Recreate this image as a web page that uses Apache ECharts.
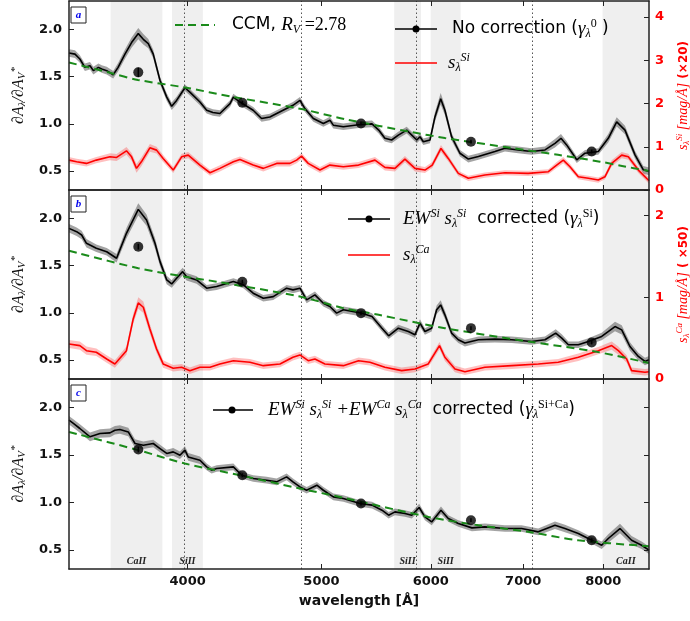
<!DOCTYPE html>
<html><head><meta charset="utf-8">
<script src="https://cdn.jsdelivr.net/npm/echarts@6/dist/echarts.min.js"></script>
<style>html,body{margin:0;padding:0;background:#fff}#c{width:690px;height:621px}</style>
</head><body><div id="c"></div>
<script>
// ---------- data ----------
const xTicks = [4000, 5000, 6000, 7000, 8000];
const yTicksLeft = [0.5, 1.0, 1.5, 2.0];
const yTicksRightA = [0, 1, 2, 3, 4];
const yTicksRightB = [0, 1, 2];
const bandEdges = [[3518, 3835], [3897, 4103], [5645, 5903], [5999, 6306], [7991, 8634]];
const bandNames = ['CaII', 'SiII', 'SiII', 'SiII', 'CaII'];
const dottedLines = [3977, 4832, 5854, 7107];

// panel a : no correction
const waveA = [3282,3315,3342,3370,3399,3418,3447,3466,3495,3533,3562,3603,3643,3684,3715,3746,3777,3820,3863,3895,3927,3982,4015,4083,4129,4172,4221,4293,4317,4365,4462,4525,4588,4690,4768,4824,4864,4933,5016,5071,5100,5186,5319,5440,5501,5558,5621,5684,5764,5813,5862,5893,5926,5992,6042,6100,6143,6212,6299,6388,6496,6678,6790,6942,7096,7259,7381,7455,7526,7654,7760,7934,8067,8181,8295,8435,8553,8634];
const gammaA = [1.75,1.738,1.686,1.598,1.615,1.563,1.598,1.58,1.563,1.52,1.598,1.738,1.86,1.955,1.895,1.849,1.738,1.458,1.283,1.186,1.248,1.382,1.335,1.231,1.144,1.12,1.109,1.214,1.283,1.231,1.144,1.057,1.073,1.144,1.196,1.248,1.161,1.057,1.004,1.039,0.986,0.969,0.99,1.0,0.934,0.847,0.829,0.881,0.934,0.881,0.829,0.864,0.811,0.829,1.073,1.266,1.144,0.864,0.689,0.627,0.654,0.707,0.742,0.724,0.707,0.724,0.794,0.847,0.777,0.62,0.689,0.707,0.847,1.021,0.934,0.672,0.514,0.497];
const errA = [0.04,0.04,0.04,0.04,0.04,0.04,0.04,0.04,0.04,0.04,0.045,0.05,0.055,0.06,0.055,0.05,0.045,0.04,0.04,0.04,0.04,0.035,0.035,0.035,0.035,0.035,0.035,0.035,0.035,0.035,0.035,0.035,0.035,0.035,0.035,0.035,0.035,0.035,0.035,0.035,0.035,0.035,0.035,0.035,0.035,0.035,0.035,0.035,0.035,0.035,0.035,0.035,0.035,0.035,0.05,0.06,0.05,0.04,0.035,0.035,0.035,0.035,0.035,0.035,0.035,0.035,0.045,0.045,0.04,0.035,0.035,0.035,0.045,0.05,0.045,0.04,0.04,0.04];
const waveRA = [3282,3324,3379,3435,3514,3553,3612,3643,3673,3703,3756,3798,3840,3905,3960,4004,4083,4152,4221,4317,4365,4462,4538,4640,4744,4797,4837,4891,4988,5071,5186,5319,5467,5558,5652,5747,5844,5942,6015,6103,6178,6282,6388,6567,6790,7058,7300,7402,7484,7568,7674,7804,7934,8022,8113,8250,8341,8482,8634];
const sSiA = [0.691,0.652,0.615,0.691,0.767,0.753,0.906,0.767,0.5,0.652,0.975,0.922,0.73,0.461,0.767,0.806,0.576,0.399,0.5,0.652,0.707,0.576,0.5,0.615,0.615,0.691,0.783,0.615,0.461,0.576,0.537,0.576,0.691,0.523,0.5,0.714,0.5,0.461,0.576,0.961,0.73,0.385,0.27,0.346,0.399,0.385,0.422,0.576,0.691,0.537,0.306,0.27,0.23,0.306,0.615,0.806,0.767,0.461,0.214];
const sSiErrA = [0.07,0.07,0.07,0.07,0.08,0.08,0.09,0.09,0.1,0.1,0.09,0.08,0.08,0.07,0.07,0.07,0.07,0.07,0.07,0.07,0.07,0.07,0.07,0.07,0.07,0.07,0.07,0.07,0.07,0.07,0.07,0.07,0.07,0.07,0.07,0.07,0.07,0.07,0.07,0.08,0.07,0.06,0.06,0.06,0.06,0.06,0.06,0.07,0.07,0.07,0.06,0.06,0.06,0.06,0.07,0.07,0.07,0.07,0.07];

// panel b : Si corrected
const waveB = [3282,3324,3352,3379,3435,3495,3553,3612,3684,3735,3788,3820,3863,3895,3927,3967,3993,4060,4129,4198,4317,4390,4462,4538,4614,4718,4768,4824,4878,4946,5016,5071,5128,5186,5349,5440,5531,5593,5684,5780,5844,5893,5942,6009,6059,6100,6143,6212,6282,6352,6496,6678,6868,7096,7259,7390,7465,7548,7674,7804,7979,8158,8250,8364,8482,8576,8634];
const gammaB = [1.894,1.859,1.824,1.736,1.683,1.647,1.578,1.842,2.095,1.982,1.736,1.542,1.348,1.306,1.366,1.436,1.383,1.348,1.261,1.278,1.331,1.296,1.208,1.155,1.172,1.261,1.243,1.261,1.137,1.19,1.102,1.067,0.997,1.032,0.997,0.961,0.838,0.757,0.838,0.803,0.768,0.891,0.803,0.838,1.032,1.084,0.979,0.786,0.715,0.68,0.715,0.722,0.715,0.697,0.715,0.786,0.733,0.662,0.662,0.697,0.75,0.855,0.82,0.644,0.539,0.486,0.504];
const errB = [0.045,0.045,0.045,0.045,0.04,0.04,0.045,0.055,0.065,0.06,0.055,0.05,0.045,0.04,0.04,0.04,0.04,0.04,0.035,0.035,0.035,0.035,0.035,0.035,0.035,0.035,0.035,0.035,0.035,0.035,0.035,0.035,0.035,0.035,0.035,0.035,0.035,0.035,0.035,0.035,0.035,0.04,0.035,0.035,0.045,0.05,0.045,0.035,0.035,0.035,0.035,0.035,0.035,0.035,0.035,0.04,0.04,0.035,0.035,0.035,0.04,0.05,0.05,0.045,0.04,0.04,0.04];
const waveRB = [3282,3342,3379,3435,3495,3543,3612,3653,3684,3715,3756,3798,3840,3905,3960,4015,4083,4152,4221,4317,4438,4538,4666,4768,4824,4891,4946,5029,5186,5319,5421,5558,5716,5844,5975,6088,6143,6247,6352,6567,6868,7179,7421,7674,7934,8113,8204,8318,8387,8576,8634];
const sCaB = [0.428,0.408,0.346,0.327,0.245,0.184,0.346,0.734,0.93,0.877,0.612,0.367,0.184,0.131,0.143,0.102,0.143,0.143,0.184,0.224,0.204,0.163,0.184,0.266,0.294,0.224,0.245,0.184,0.163,0.224,0.204,0.143,0.102,0.122,0.184,0.408,0.266,0.122,0.089,0.143,0.163,0.184,0.204,0.266,0.346,0.408,0.346,0.245,0.102,0.082,0.089];
const sCaErrB = [0.05,0.05,0.05,0.045,0.045,0.045,0.05,0.06,0.07,0.07,0.06,0.05,0.045,0.04,0.04,0.04,0.04,0.04,0.04,0.04,0.04,0.04,0.04,0.04,0.04,0.04,0.04,0.04,0.04,0.04,0.04,0.04,0.04,0.04,0.04,0.045,0.045,0.04,0.04,0.04,0.04,0.04,0.04,0.045,0.045,0.05,0.05,0.045,0.04,0.04,0.04];

// panel c : Si + Ca corrected
const waveC = [3282,3306,3342,3399,3456,3514,3543,3573,3623,3664,3715,3777,3820,3863,3905,3949,3982,4004,4083,4129,4163,4198,4317,4378,4462,4563,4640,4718,4768,4824,4878,4962,5016,5100,5186,5332,5440,5531,5593,5652,5747,5813,5885,5942,6009,6103,6178,6282,6426,6567,6790,6981,7178,7381,7505,7674,7847,7979,8067,8226,8387,8528,8634];
const gammaC = [1.866,1.832,1.779,1.691,1.726,1.733,1.761,1.768,1.743,1.621,1.603,1.621,1.568,1.516,1.533,1.498,1.551,1.48,1.445,1.375,1.34,1.358,1.375,1.287,1.253,1.235,1.217,1.27,1.217,1.164,1.129,1.182,1.129,1.059,1.042,0.989,0.972,0.919,0.866,0.901,0.884,0.866,0.947,0.848,0.796,0.919,0.832,0.779,0.733,0.743,0.726,0.726,0.691,0.761,0.726,0.674,0.603,0.55,0.621,0.726,0.603,0.55,0.498];
const errC = [0.045,0.045,0.045,0.045,0.045,0.045,0.045,0.045,0.045,0.045,0.04,0.04,0.04,0.04,0.04,0.04,0.04,0.04,0.04,0.035,0.035,0.035,0.035,0.035,0.035,0.035,0.035,0.035,0.035,0.035,0.035,0.035,0.035,0.035,0.035,0.035,0.035,0.035,0.035,0.035,0.035,0.035,0.04,0.035,0.035,0.04,0.035,0.035,0.035,0.035,0.035,0.035,0.035,0.04,0.04,0.035,0.035,0.04,0.045,0.05,0.045,0.04,0.04];

// CCM curves
const ccmWaveA = [3282,3514,3682,3982,4315,4824,5200,5803,6143,6861,7418,7956,8254,8634];
const ccmA = [1.65,1.54,1.465,1.385,1.285,1.16,1.05,0.915,0.85,0.745,0.672,0.60,0.555,0.50];
const ccmWaveB = [3282,3684,3982,4198,4824,5186,5501,6143,7058,7891,8634];
const ccmB = [1.658,1.472,1.383,1.33,1.172,1.05,0.979,0.838,0.697,0.591,0.469];
const ccmWaveC = [3282,3684,3982,4365,4824,5186,5978,6496,7058,7674,8634];
const ccmC = [1.743,1.551,1.41,1.287,1.147,1.05,0.848,0.761,0.691,0.602,0.54];

// photometric points
const dotWave = [3684, 4382, 5341, 6416, 7847];
const dotA = [1.545, 1.224, 1.004, 0.811, 0.707];
const dotB = [1.70, 1.33, 0.997, 0.838, 0.686];
const dotC = [1.558, 1.287, 0.989, 0.814, 0.603];
const dotErrA = [0.05, 0.02, 0.02, 0.02, 0.02];
const dotErrB = [0.03, 0.02, 0.02, 0.02, 0.02];
const dotErrC = [0.03, 0.02, 0.02, 0.02, 0.02];

// ---------- helpers ----------
const X_MIN = 3282, X_MAX = 8634;
const AX = '#222';
const pairs = (w, v) => w.map((x, i) => [x, v[i]]);

function xAx(g, pos, labels, name) {
  return {
    type: 'log', logBase: 10, gridIndex: g, position: pos, min: X_MIN, max: X_MAX, z: 10,
    axisLine: { show: true, onZero: false, lineStyle: { color: AX, width: 1.5 } },
    axisTick: { show: true, inside: true, length: 5, customValues: xTicks, lineStyle: { color: AX, width: 1 } },
    axisLabel: { show: labels, customValues: xTicks, margin: 6, color: '#111', fontSize: 13, fontWeight: 'bold',
      fontFamily: 'DejaVu Sans', formatter: v => String(Math.round(v)) },
    splitLine: { show: false }, minorTick: { show: false }, minorSplitLine: { show: false },
    name: name || '', nameLocation: 'middle', nameGap: 25,
    nameTextStyle: { fontFamily: 'DejaVu Sans', fontSize: 14, fontWeight: 'bold', color: '#111' }
  };
}
const leftNameRich = {
  n: { fontFamily: 'Liberation Serif', fontStyle: 'italic', fontSize: 16, color: '#111' },
  b: { fontFamily: 'Liberation Serif', fontStyle: 'italic', fontSize: 11, color: '#111', padding: [7, 0, 0, 0] },
  p: { fontFamily: 'Liberation Serif', fontStyle: 'italic', fontSize: 11, color: '#111', padding: [0, 0, 8, 0] }
};
function yLeft(g) {
  return {
    type: 'value', gridIndex: g, position: 'left', min: 0.3, max: 2.3, z: 10,
    axisLine: { show: true, lineStyle: { color: AX, width: 1.5 } },
    axisTick: { show: true, inside: true, length: 5, customValues: yTicksLeft, lineStyle: { color: AX, width: 1 } },
    axisLabel: { customValues: yTicksLeft, margin: 7, color: '#111', fontSize: 13, fontWeight: 'bold',
      fontFamily: 'DejaVu Sans', formatter: v => v.toFixed(1) },
    splitLine: { show: false },
    name: '{n|∂A}{b|λ}{n|/∂A}{b|V}{p|*}', nameLocation: 'middle', nameRotate: 90, nameGap: 36,
    nameTextStyle: { rich: leftNameRich }
  };
}
function redNameRich() {
  return {
    n: { fontFamily: 'Liberation Serif', fontStyle: 'italic', fontSize: 14, color: '#f00' },
    b: { fontFamily: 'Liberation Serif', fontStyle: 'italic', fontSize: 9, color: '#f00', padding: [7, 0, 0, 0] },
    p: { fontFamily: 'Liberation Serif', fontStyle: 'italic', fontSize: 9, color: '#f00', padding: [0, 0, 8, 0] },
    r: { fontFamily: 'DejaVu Sans', fontSize: 12, fontWeight: 'bold', color: '#f00' }
  };
}
function yRight(g, max, ticks, labels, name) {
  return {
    type: 'value', gridIndex: g, position: 'right', min: labels ? 0 : 0.3, max: max, z: 10,
    axisLine: { show: true, lineStyle: { color: AX, width: 1.5 } },
    axisTick: { show: true, inside: true, length: 5, customValues: ticks, lineStyle: { color: AX, width: 1 } },
    axisLabel: { show: labels, customValues: ticks, margin: 6, color: '#f00', fontSize: 13, fontWeight: 'bold',
      fontFamily: 'DejaVu Sans', formatter: v => String(Math.round(v)) },
    splitLine: { show: false },
    name: name || '', nameLocation: 'middle', nameRotate: 90, nameGap: 20,
    nameTextStyle: { rich: redNameRich() }
  };
}
function bandSeries(xi, yi, wave, val, err, color, z) {
  const rows = wave.map((w, i) => [w, val[i] - err[i], val[i] + err[i]]);
  return {
    type: 'custom', xAxisIndex: xi, yAxisIndex: yi, z: z, silent: true, data: rows,
    encode: { x: 0, y: [1, 2] },
    renderItem(params, api) {
      if (params.dataIndex !== 0) return null;
      const up = rows.map(r => api.coord([r[0], r[2]]));
      const lo = rows.map(r => api.coord([r[0], r[1]])).reverse();
      return { type: 'polygon', shape: { points: up.concat(lo) }, style: { fill: color } };
    }
  };
}
function lineSeries(xi, yi, wave, val, color, width, z, extra) {
  return Object.assign({
    type: 'line', xAxisIndex: xi, yAxisIndex: yi, z: z, data: pairs(wave, val),
    showSymbol: false, symbol: 'none', silent: true,
    lineStyle: { color: color, width: width }
  }, extra || {});
}
function errSeries(xi, yi, wave, val, err) {
  return {
    type: 'custom', xAxisIndex: xi, yAxisIndex: yi, z: 7, silent: true,
    data: wave.map((w, i) => [w, val[i] - err[i], val[i] + err[i]]),
    encode: { x: 0, y: [1, 2] },
    renderItem(p, api) {
      const a = api.coord([api.value(0), api.value(1)]);
      const b = api.coord([api.value(0), api.value(2)]);
      return { type: 'line', shape: { x1: a[0], y1: a[1], x2: b[0], y2: b[1] }, style: { stroke: '#000', lineWidth: 1.5 } };
    }
  };
}
function dotSeries(xi, yi, wave, val) {
  return { type: 'scatter', xAxisIndex: xi, yAxisIndex: yi, z: 8, silent: true, data: pairs(wave, val),
    symbol: 'circle', symbolSize: 10, itemStyle: { color: '#000' } };
}
function ccmSeries(xi, yi, wave, val, showLabels) {
  return lineSeries(xi, yi, wave, val, '#1a8a1a', 2, 6, {
    smooth: 0.3,
    lineStyle: { color: '#1a8a1a', width: 2, type: [8, 5] },
    markArea: {
      silent: true,
      itemStyle: { color: '#efefef' },
      label: { show: showLabels, position: 'insideBottom', distance: 3, color: '#222',
        fontFamily: 'Liberation Serif', fontStyle: 'italic', fontWeight: 'bold', fontSize: 10 },
      data: bandEdges.map((e, i) => [{ name: bandNames[i], xAxis: e[0] }, { xAxis: e[1] }])
    },
    markLine: {
      silent: true, symbol: ['none', 'none'], label: { show: false },
      lineStyle: { color: '#555', width: 1, type: [1.5, 2.5] },
      data: dottedLines.map(v => ({ xAxis: v }))
    }
  });
}

// ---------- legends / annotations (layout only) ----------
const LR = {
  t: { fontFamily: 'DejaVu Sans', fontSize: 17, color: '#111' },
  m: { fontFamily: 'Liberation Serif', fontStyle: 'italic', fontSize: 19, color: '#111' },
  u: { fontFamily: 'Liberation Serif', fontSize: 18, color: '#111' },
  sb: { fontFamily: 'Liberation Serif', fontStyle: 'italic', fontSize: 12, color: '#111', padding: [9, 0, 0, 0] },
  sp: { fontFamily: 'Liberation Serif', fontStyle: 'italic', fontSize: 12, color: '#111', padding: [0, 0, 10, 0] },
  su: { fontFamily: 'Liberation Serif', fontSize: 12, color: '#111', padding: [0, 0, 10, 0] }
};
function legText(x, y, text) {
  return { type: 'text', x: x, y: y, z: 20, style: { text: text, rich: LR, align: 'left', verticalAlign: 'middle' } };
}
function legLine(x1, x2, y, color, width, dash) {
  return { type: 'line', z: 20, shape: { x1: x1, y1: y, x2: x2, y2: y },
    style: { stroke: color, lineWidth: width, lineDash: dash || null } };
}
function legDot(x, y) {
  return { type: 'circle', z: 21, shape: { cx: x, cy: y, r: 3.5 }, style: { fill: '#000' } };
}
function panelTag(letter, top) {
  return { type: 'group', x: 71, y: top + 6, z: 20, children: [
    { type: 'rect', shape: { x: 0, y: 0, width: 15, height: 16 }, style: { fill: '#fff', stroke: '#222', lineWidth: 1 } },
    { type: 'text', x: 7.5, y: 8, style: { text: letter, fill: '#0000ee', font: 'italic bold 11px "Liberation Serif"',
      align: 'center', verticalAlign: 'middle' } }
  ] };
}

const graphics = [
  panelTag('a', 1), panelTag('b', 190), panelTag('c', 379),
  legLine(175, 215, 25, '#1a8a1a', 2, [8, 5]),
  legText(232, 25, '{t|CCM, }{m|R}{sb|V}{u| =2.78}'),
  legLine(395, 437, 29, '#000', 1.5), legDot(416, 29),
  legText(452, 29, '{t|No correction (}{m|γ}{sb|λ}{su|0}{t| )}'),
  legLine(395, 437, 63, '#f00', 1.5),
  legText(448, 63, '{m|s}{sb|λ}{sp|Si}'),
  legLine(348, 390, 219, '#000', 1.5), legDot(369, 219),
  legText(403, 219, '{m|EW}{sp|Si}{m| s}{sb|λ}{sp|Si}{t|  corrected (}{m|γ}{sb|λ}{su|Si}{t|)}'),
  legLine(348, 390, 255, '#f00', 1.5),
  legText(403, 255, '{m|s}{sb|λ}{sp|Ca}'),
  legLine(213, 253, 410, '#000', 1.5), legDot(232, 410),
  legText(268, 410, '{m|EW}{sp|Si}{m| s}{sb|λ}{sp|Si}{m| +EW}{sp|Ca}{m| s}{sb|λ}{sp|Ca}{t|  corrected (}{m|γ}{sb|λ}{su|Si+Ca}{t|)}')
];

const GRAY = 'rgba(90,90,90,0.55)';
const PINK = 'rgba(255,0,0,0.25)';

const option = {
  animation: false,
  backgroundColor: '#fff',
  grid: [
    { left: 69, right: 41, top: 1, height: 189, outerBoundsMode: 'none', containLabel: false },
    { left: 69, right: 41, top: 190, height: 189, outerBoundsMode: 'none', containLabel: false },
    { left: 69, right: 41, top: 379, height: 190, outerBoundsMode: 'none', containLabel: false }
  ],
  xAxis: [
    xAx(0, 'bottom', false), xAx(0, 'top', false),
    xAx(1, 'bottom', false), xAx(1, 'top', false),
    xAx(2, 'bottom', true, 'wavelength [Å]'), xAx(2, 'top', false)
  ],
  yAxis: [
    yLeft(0), yRight(0, 4.37, yTicksRightA, true, '{n|s}{b|λ}{p|Si}{n| [mag/Å]}{r| (×20)}'),
    yLeft(1), yRight(1, 2.31, yTicksRightB, true, '{n|s}{b|λ}{p|Ca}{n| [mag/Å]}{r| ( ×50)}'),
    yLeft(2), yRight(2, 2.3, yTicksLeft, false)
  ],
  graphic: graphics,
  series: [
    // panel a
    ccmSeries(0, 0, ccmWaveA, ccmA, false),
    bandSeries(0, 0, waveA, gammaA, errA, GRAY, 3),
    lineSeries(0, 0, waveA, gammaA, '#000', 1.6, 5),
    bandSeries(0, 1, waveRA, sSiA, sSiErrA, PINK, 3),
    lineSeries(0, 1, waveRA, sSiA, '#f00', 1.6, 5),
    errSeries(0, 0, dotWave, dotA, dotErrA),
    dotSeries(0, 0, dotWave, dotA),
    // panel b
    ccmSeries(2, 2, ccmWaveB, ccmB, false),
    bandSeries(2, 2, waveB, gammaB, errB, GRAY, 3),
    lineSeries(2, 2, waveB, gammaB, '#000', 1.6, 5),
    bandSeries(2, 3, waveRB, sCaB, sCaErrB, PINK, 3),
    lineSeries(2, 3, waveRB, sCaB, '#f00', 1.6, 5),
    errSeries(2, 2, dotWave, dotB, dotErrB),
    dotSeries(2, 2, dotWave, dotB),
    // panel c
    ccmSeries(4, 4, ccmWaveC, ccmC, true),
    bandSeries(4, 4, waveC, gammaC, errC, GRAY, 3),
    lineSeries(4, 4, waveC, gammaC, '#000', 1.6, 5),
    errSeries(4, 4, dotWave, dotC, dotErrC),
    dotSeries(4, 4, dotWave, dotC)
  ]
};

const chart = echarts.init(document.getElementById('c'), null, { renderer: 'canvas' });
chart.setOption(option);
</script></body></html>
